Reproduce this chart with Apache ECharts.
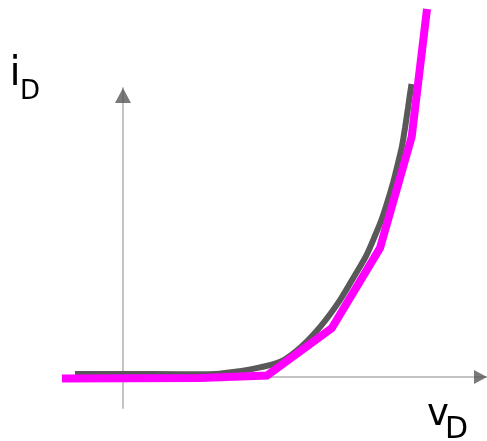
<!DOCTYPE html>
<html>
<head>
<meta charset="utf-8">
<script src="https://cdn.jsdelivr.net/npm/echarts@6/dist/echarts.min.js"></script>
<style>
html,body{margin:0;padding:0;background:#fff;}
#chart{width:487px;height:441px;}
</style>
</head>
<body>
<div id="chart"></div>
<script>
// Axis ranges (v_D in volts, i_D in mA)
const vRange = [-0.25, 1.516667];
const iRange = [-1, 9.3226];

// Exponential diode curve (gray)
const vCurve = [-0.2, 0, 0.2375, 0.3833, 0.4875, 0.5708, 0.6583, 0.7417, 0.825, 0.9042, 0.9667, 1.0125, 1.0458, 1.075, 1.1, 1.125, 1.1458, 1.1625, 1.175, 1.1875, 1.1958, 1.2021];
const iCurve = [0.10, 0.10, 0.09, 0.10, 0.19, 0.31, 0.50, 0.97, 1.65, 2.48, 3.29, 3.90, 4.48, 5.03, 5.61, 6.26, 6.90, 7.45, 8.03, 8.68, 9.13, 9.45];

// Piecewise-linear model (magenta)
const vPwl = [-0.2542, 0.3208, 0.6, 0.8696, 1.0708, 1.2029, 1.2667];
const iPwl = [-0.05, -0.03, 0.05, 1.57, 4.16, 7.75, 11.87];

// Axis labels
const yLabelMain = 'i', yLabelSub = 'D';
const xLabelMain = 'v', xLabelSub = 'D';

const zip = (a, b) => a.map((v, k) => [v, b[k]]);

const chart = echarts.init(document.getElementById('chart'), null, {renderer: 'canvas'});
const axisLineStyle = {color: '#c4c4c4', width: 2};
const font = '"DejaVu Sans", sans-serif';

chart.setOption({
  animation: false,
  backgroundColor: '#ffffff',
  grid: {left: 63, right: 0, top: 88, bottom: 33},
  xAxis: {
    type: 'value', min: vRange[0], max: vRange[1],
    axisLine: {show: true, onZero: true, lineStyle: axisLineStyle},
    axisTick: {show: false}, axisLabel: {show: false}, splitLine: {show: false}
  },
  yAxis: {
    type: 'value', min: iRange[0], max: iRange[1],
    axisLine: {show: true, onZero: true, lineStyle: axisLineStyle},
    axisTick: {show: false}, axisLabel: {show: false}, splitLine: {show: false}
  },
  series: [
    {
      type: 'line', data: zip(vCurve, iCurve), smooth: 0.3, showSymbol: false, clip: false, z: 2,
      lineStyle: {color: '#595959', width: 6, cap: 'butt'}
    },
    {
      type: 'line', data: zip(vPwl, iPwl), showSymbol: false, clip: false, z: 3,
      lineStyle: {color: '#ff00ff', width: 8, cap: 'butt', join: 'miter'}
    },
    {
      type: 'scatter', data: [[0, iRange[1]]], symbol: 'triangle', symbolSize: [16, 15],
      symbolOffset: [0, 7.5], clip: false, z: 4, itemStyle: {color: '#595959'}, silent: true
    },
    {
      type: 'scatter', data: [[vRange[1], 0]], symbol: 'path://M0,0 L10,5 L0,10 Z', symbolSize: [13, 14],
      symbolOffset: [-6.5, 0], clip: false, z: 4, itemStyle: {color: '#595959'}, silent: true
    }
  ],
  graphic: [
    {type: 'text', x: 9.5, y: 75, style: {text: yLabelMain, font: '40px ' + font, fill: '#000', verticalAlign: 'middle'}},
    {type: 'text', x: 20, y: 92.5, style: {text: yLabelSub, font: '26px ' + font, fill: '#000', verticalAlign: 'middle'}},
    {type: 'text', x: 427, y: 415.5, style: {text: xLabelMain, font: '37px ' + font, fill: '#000', verticalAlign: 'middle'}},
    {type: 'text', x: 445, y: 430.5, style: {text: xLabelSub, font: '30px ' + font, fill: '#000', verticalAlign: 'middle'}}
  ]
});
</script>
</body>
</html>
